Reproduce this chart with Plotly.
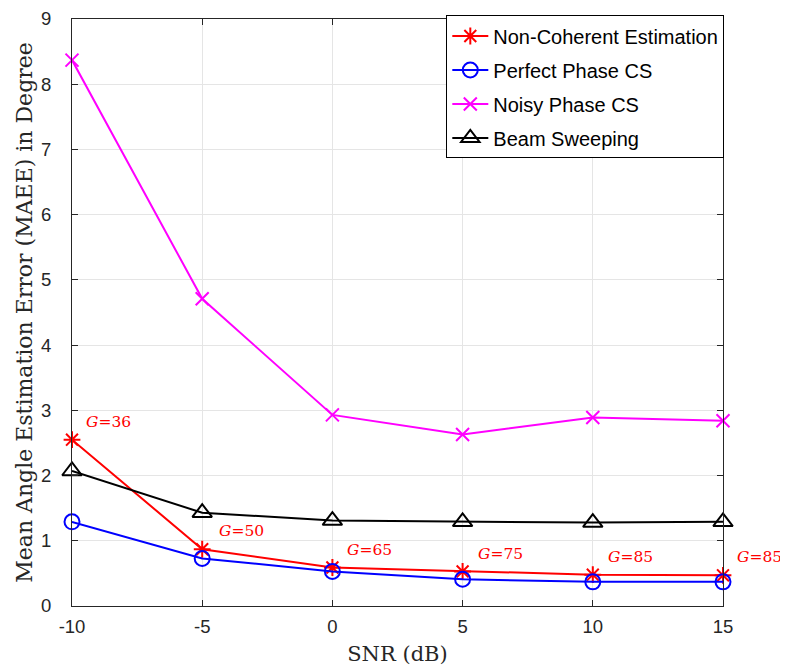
import plotly.graph_objects as go

snr = [-10, -5, 0, 5, 10, 15]
non_coherent = [2.55, 0.87, 0.59, 0.53, 0.48, 0.47]
perfect_cs = [1.29, 0.73, 0.53, 0.41, 0.37, 0.37]
noisy_cs = [8.37, 4.71, 2.93, 2.63, 2.89, 2.84]
beam_sweep = [2.07, 1.43, 1.31, 1.29, 1.28, 1.29]

g_labels = ["36", "50", "65", "75", "85", "85"]
g_x = [-9.55, -4.45, 0.5, 5.5, 10.5, 15.45]
g_y = [2.82, 1.15, 0.86, 0.80, 0.75, 0.75]

x_min, x_max = -10, 15

fig = go.Figure()

fig.add_trace(go.Scatter(x=snr, y=non_coherent, mode="lines+markers", name="Non-Coherent Estimation",
                         line=dict(color="#ff0000", width=2),
                         marker=dict(symbol="asterisk-open", size=14, line=dict(color="#ff0000", width=2)),
                         legendgroup="a", cliponaxis=False))
fig.add_trace(go.Scatter(x=snr, y=perfect_cs, mode="lines+markers", name="Perfect Phase CS",
                         line=dict(color="#0000ff", width=2),
                         marker=dict(symbol="circle-open", size=15, line=dict(color="#0000ff", width=2)),
                         legendgroup="b", cliponaxis=False))
fig.add_trace(go.Scatter(x=snr, y=noisy_cs, mode="lines+markers", name="Noisy Phase CS",
                         line=dict(color="#ff00ff", width=2),
                         marker=dict(symbol="x-thin-open", size=13, line=dict(color="#ff00ff", width=2)),
                         legendgroup="c", cliponaxis=False))
fig.add_trace(go.Scatter(x=snr, y=beam_sweep, mode="lines+markers", name="Beam Sweeping",
                         line=dict(color="#000000", width=2),
                         marker=dict(symbol="triangle-up-open", size=17, line=dict(color="#000000", width=2)),
                         legendgroup="d", cliponaxis=False))

for lx, ly, lab in zip(g_x, g_y, g_labels):
    fig.add_annotation(x=(lx - x_min) / (x_max - x_min), xref="paper", y=ly, yref="y",
                       text="<i>G</i>=" + lab, showarrow=False, xanchor="left",
                       yanchor="middle", font=dict(family="DejaVu Serif", size=15.5, color="#ff0000"))

axis_common = dict(showline=True, linecolor="#262626", linewidth=1, mirror="ticks", ticks="inside",
                   ticklen=6, tickcolor="#262626", showgrid=True, gridcolor="#e5e5e5", gridwidth=1,
                   zeroline=False, automargin=False, ticklabeloverflow="allow",
                   tickfont=dict(family="Liberation Sans", size=18.5, color="#262626"))

fig.update_xaxes(range=[x_min, x_max], tickvals=[-10, -5, 0, 5, 10, 15],
                 ticktext=["-10", "-5", "0", "5", "10", "15"], ticklabelstandoff=4,
                 title=dict(text="SNR (dB)", font=dict(family="DejaVu Serif", size=21, color="#262626"),
                            standoff=10), **axis_common)
fig.update_yaxes(range=[0, 9], tickvals=list(range(10)), ticklabelstandoff=16,
                 title=dict(text="Mean Angle Estimation Error (MAEE) in Degree",
                            font=dict(family="DejaVu Serif", size=22, color="#262626"), standoff=2),
                 **axis_common)

fig.update_layout(
    width=788, height=666,
    margin=dict(l=64, r=73, t=11, b=68, autoexpand=False),
    plot_bgcolor="white", paper_bgcolor="white",
    showlegend=True,
    legend=dict(x=1.002, y=1.006, xanchor="right", yanchor="top", bgcolor="white",
                bordercolor="#000000", borderwidth=1, tracegroupgap=5, itemwidth=36,
                font=dict(family="Liberation Sans", size=20, color="#000000")),
)

fig.write_html("out.html")
